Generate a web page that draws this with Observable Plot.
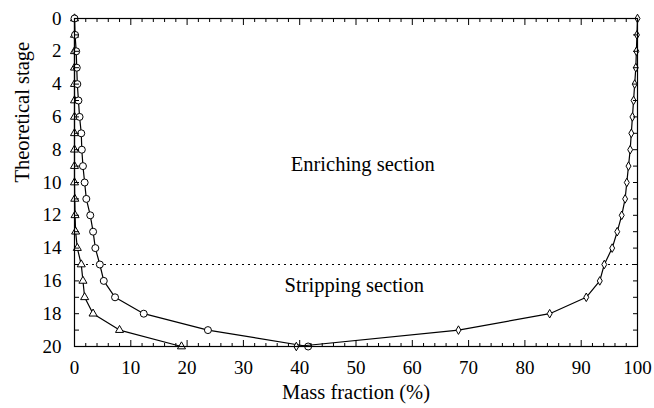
<!DOCTYPE html>
<html>
<head>
<meta charset="utf-8">
<script src="https://cdn.jsdelivr.net/npm/d3@7"></script>
<script src="https://cdn.jsdelivr.net/npm/@observablehq/plot@0.6"></script>
<style>
  html, body { margin: 0; padding: 0; background: #fff; }
  #chart svg, #chart svg text { font-family: "Liberation Serif", "Times New Roman", "DejaVu Serif", serif !important; }
</style>
</head>
<body>
<div id="chart"></div>
<script>
// Theoretical stage (0 = top of column)
const stages = [0,1,2,3,4,5,6,7,8,9,10,11,12,13,14,15,16,17,18,19,20];
// Mass fraction (%) for the three components
const seriesTriangle = [0,0,0,0,0,0,0,0,0,0,0,0.05,0.1,0.2,0.5,1.2,1.5,1.8,3.3,8.0,19.0];
const seriesCircle   = [0,0.1,0.3,0.4,0.5,0.7,0.9,1.2,1.3,1.5,1.8,2.1,2.8,3.3,3.7,4.5,5.2,7.2,12.3,23.7,41.5];
const seriesDiamond  = [100,99.9,99.8,99.7,99.5,99.3,99.1,98.9,98.7,98.4,98.1,97.8,97.2,96.4,95.5,94.1,93.3,90.9,84.4,68.2,39.4];

const feedStage = 15;
const xMajorTicks = [0,10,20,30,40,50,60,70,80,90,100];
const xMinorTicks = [2,4,6,8,12,14,16,18,22,24,26,28,32,34,36,38,42,44,46,48,52,54,56,58,62,64,66,68,72,74,76,78,82,84,86,88,92,94,96,98];
const yLabelTicks = [0,2,4,6,8,10,12,14,16,18,20];
const yTicks = stages;

const sectionLabels = ["Enriching section", "Stripping section"];
const sectionX = [51.2, 49.7];
const sectionY = [8.9, 16.3];

const series = [
  {name: "triangle", values: seriesTriangle, symbol: "triangle", r: 3},
  {name: "circle", values: seriesCircle, symbol: "circle", r: 3.5},
  {name: "diamond", values: seriesDiamond, symbol: "diamond", r: 2.6}
];

const serif = "Liberation Serif";
const marks = [];
const annotations = sectionLabels.map((t, i) => ({text: t, x: sectionX[i], y: sectionY[i]}));

marks.push(Plot.ruleY([feedStage], {stroke: "black", strokeWidth: 1, strokeDasharray: "2,4"}));

for (const s of series) {
  const rows = stages.map((st, i) => ({stage: st, value: s.values[i]}));
  marks.push(Plot.line(rows, {x: "value", y: "stage", stroke: "black", strokeWidth: 1.2}));
  marks.push(Plot.dot(rows, {x: "value", y: "stage", symbol: () => s.symbol, r: s.r, fill: "white", stroke: "black", strokeWidth: 1}));
}

marks.push(
  Plot.text(annotations, {x: "x", y: "y", text: "text", fontSize: 20.5, fontFamily: serif, fill: "black"}),
  // axes ticks (inward)
  Plot.axisX({anchor: "bottom", ticks: xMinorTicks, tickSize: -3, tickFormat: () => "", label: null}),
  Plot.axisX({anchor: "bottom", ticks: xMajorTicks, tickSize: -6, tickFormat: () => "", label: null}),
  Plot.axisX({anchor: "top", ticks: xMinorTicks, tickSize: -3, tickFormat: () => "", label: null}),
  Plot.axisX({anchor: "top", ticks: xMajorTicks, tickSize: -6, tickFormat: () => "", label: null}),
  Plot.axisX({anchor: "bottom", ticks: xMajorTicks, tickSize: 0, tickPadding: 14, tickFormat: d => String(d), label: null, fontSize: 19, fontFamily: serif}),
  Plot.axisY({anchor: "left", ticks: yTicks, tickSize: -5, tickFormat: () => "", label: null}),
  Plot.axisY({anchor: "right", ticks: yTicks, tickSize: -5, tickFormat: () => "", label: null}),
  Plot.axisY({anchor: "left", ticks: yLabelTicks, tickSize: 0, tickPadding: 13, tickFormat: d => String(d), label: null, fontSize: 19, fontFamily: serif}),
  Plot.frame({stroke: "black", strokeWidth: 1.2}),
  Plot.text(["Mass fraction (%)"], {frameAnchor: "bottom", dy: 52, fontSize: 20.5, fontFamily: serif, fill: "black"}),
  Plot.text(["Theoretical stage"], {frameAnchor: "left", dx: -52, rotate: -90, fontSize: 20.5, fontFamily: serif, fill: "black"})
);

const chart = Plot.plot({
  width: 654,
  height: 408,
  marginLeft: 74,
  marginRight: 17,
  marginTop: 18,
  marginBottom: 62,
  x: {domain: [0, 100]},
  y: {domain: [0, 20], reverse: true},
  style: {fontFamily: "'Liberation Serif', serif", fontSize: "19px", color: "black", background: "white", overflow: "visible"},
  marks
});
document.getElementById("chart").appendChild(chart);
</script>
</body>
</html>
